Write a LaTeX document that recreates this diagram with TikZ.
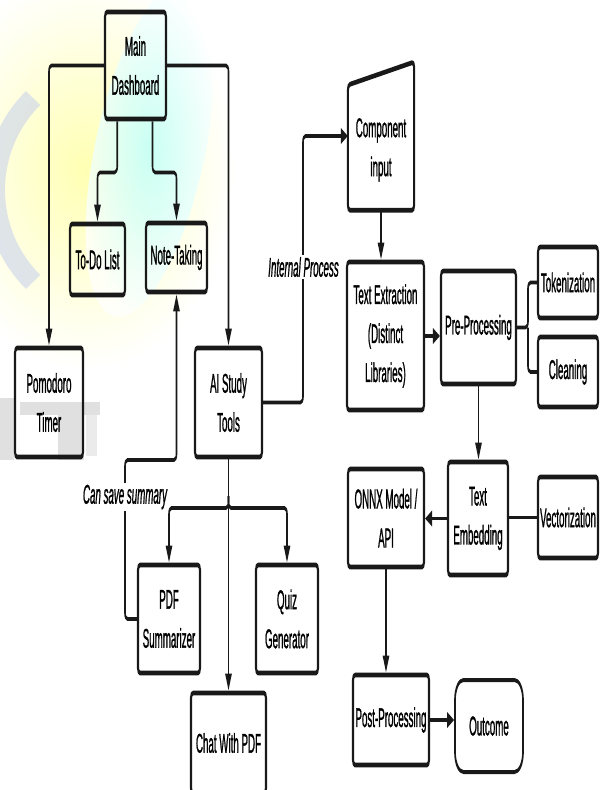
\documentclass[tikz,border=0pt]{standalone}
\usepackage{fontspec}
\setmainfont[FakeStretch=0.86,FakeBold=1.6]{Liberation Sans}
\usetikzlibrary{arrows.meta,calc}
\tikzset{
  boxnode/.style 2 args={draw=black!90, line width=4.8pt, rounded corners=5pt,
    minimum width=#1*2.38095pt, minimum height=#2*1pt, inner sep=0pt,
    align=center, font=\fontsize{27}{39}\selectfont},
  arr/.style={draw=black!90, line width=3.8pt, rounded corners=6pt, -{Triangle[length=17pt,width=15pt]}},
  con/.style={draw=black!90, line width=3.8pt, rounded corners=6pt},
  lbl/.style={fill=white, inner sep=2pt, font=\fontsize{27}{30}\selectfont\itshape},
}
\begin{document}
\begin{tikzpicture}[x=1pt,y=-1pt]
\useasboundingbox (0,0) rectangle (611,790);
% faded watermark in the background
\begin{scope}
  \clip (0,0) rectangle (611,790);
  \shade[inner color=yellow!35, outer color=white, opacity=0.85] (85,170) ellipse (150 and 200);
  \shade[inner color=cyan!28, outer color=white, opacity=0.75, rotate around={-12:(150,150)}] (150,150) ellipse (55 and 170);
  \draw[cyan!40!blue!22, line width=20pt, opacity=0.55] (125,190) ++(135:130) arc (135:225:130);
  \fill[black!12] (0,398) rectangle (14,460);
  \fill[black!12] (20,402) rectangle (100,415);
  \fill[black!12] (58,402) rectangle (84,460);
  \fill[black!8] (86,415) rectangle (97,456);
\end{scope}
\begin{scope}[x=2.38095pt, transform canvas={xscale=0.42}]
  % boxes
  \node[boxnode={61}{107}] (md) at (135.5,65.5) {Main\\Dashboard};
  \node[boxnode={55}{71}] (todo) at (97.5,259.5) {To-Do List};
  \node[boxnode={61}{69}] (note) at (176.5,257.5) {Note-Taking};
  \node[boxnode={68}{109}] (pomo) at (49,402.5) {Pomodoro\\Timer};
  \node[boxnode={67}{109}] (ai) at (228.5,402.5) {AI Study\\Tools};
  \node[boxnode={62}{108}] (pdf) at (169,619) {PDF\\Summarizer};
  \node[boxnode={62}{108}] (quiz) at (287,619) {Quiz\\Generator};
  \node[boxnode={75}{100}] (chat) at (228.5,743) {Chat With PDF};
  \node[boxnode={77}{148}] (te) at (385.5,336) {Text Extraction\\(Distinct\\Libraries)};
  \node[boxnode={75}{113}] (pp) at (478.5,327.5) {Pre-Processing};
  \node[boxnode={60}{71}] (tok) at (568,282.5) {Tokenization};
  \node[boxnode={60}{70}] (clean) at (568,372) {Cleaning};
  \node[boxnode={60}{113}] (emb) at (478,518.5) {Text\\Embedding};
  \node[boxnode={76}{98}] (onnx) at (386,518) {ONNX Model /\\API};
  \node[boxnode={60}{81}] (vec) at (568,517.5) {Vectorization};
  \node[boxnode={76}{90}] (post) at (391,720) {Post-Processing};
  \node[boxnode={68}{92}, rounded corners=20pt, line width=4pt] (out) at (489,726) {Outcome};
  % component input (manual input shape)
  \node[align=center, font=\fontsize{27}{39}\selectfont, inner sep=0pt,
        minimum width=66*2.38095pt, minimum height=120pt] (comp) at (381,150) {Component\\input};
  \draw[black!90, line width=4.8pt, rounded corners=5pt]
    (comp.south west |- 0,85) -- (comp.south east |- 0,62) -- (comp.south east) -- (comp.south west) -- cycle;
  % connectors
  \draw[arr] (md.west) -| (pomo.north);
  \draw[arr] (md.east) -| (ai.north);
  \draw[arr] ($(md.south west)!0.21!(md.south east)$) -- ++(0,51) -| (todo.north);
  \draw[arr] ($(md.south west)!0.77!(md.south east)$) -- ++(0,51) -| (note.north);
  \coordinate (ipt) at (303,136);
  \draw[arr] (ai.east) -| (ipt) -- (comp.west |- ipt);
  \node[lbl] (iplbl) at (303.5,267) {Internal Process};
  \draw[arr] (comp.south) -- (comp.south |- te.north);
  \draw[arr] (te.east) -- (te.east -| pp.west);
  \coordinate (ppb) at (528,327.5);
  \draw[con] (pp.east) -- (ppb) |- (tok.west);
  \draw[con] (ppb) |- (clean.west);
  \draw[arr] (pp.south) -- (pp.south |- emb.north);
  \draw[arr] (emb.west) -- (emb.west -| onnx.east);
  \draw[con] (vec.west) -- (vec.west -| emb.east);
  \draw[arr] (onnx.south) -- (onnx.south |- post.north);
  \draw[arr] (post.east) -- (post.east -| out.west);
  \coordinate (aib) at (228.5,508);
  \draw[arr] (ai.south) -- (chat.north);
  \draw[arr] (ai.south |- 0,496) -- (aib) -| (pdf.north);
  \draw[arr] (ai.south |- 0,496) -- (aib) -| (quiz.north);
  \coordinate (s1) at (125,460);
  \draw[arr] (pdf.west) -| (s1) -| (note.south);
  \node[lbl] (cs) at (125,497) {Can save summary};
\end{scope}
\end{tikzpicture}
\end{document}
